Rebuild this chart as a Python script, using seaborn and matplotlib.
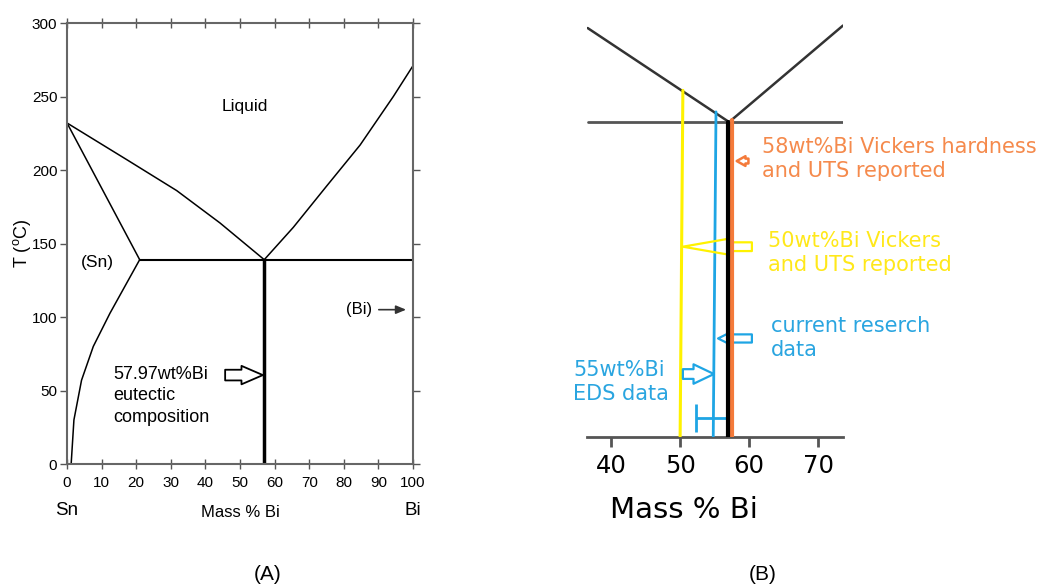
import matplotlib
matplotlib.use("Agg")
import matplotlib.pyplot as plt
import seaborn as sns
import pandas as pd

sns.set_style("ticks")
plt.rcParams["font.family"] = ["Liberation Sans", "DejaVu Sans"]
plt.rcParams["mathtext.default"] = "regular"
plt.rcParams["text.color"] = "black"
plt.rcParams["axes.labelcolor"] = "black"
plt.rcParams["xtick.labelcolor"] = "black"
plt.rcParams["ytick.labelcolor"] = "black"

# (A) Sn-Bi phase diagram
liq_sn_x = [0, 17.3, 31.7, 44.2, 57]
liq_sn_t = [232, 207, 186, 164, 139]
sol_sn_x = [0, 21]
sol_sn_t = [232, 139]
solvus_x = [21, 17.7, 12.4, 7.6, 4.2, 2.0, 1.2]
solvus_t = [139, 125, 102.5, 80, 57, 30, 0]
liq_bi_x = [57, 65.4, 75, 84.7, 94.3, 100]
liq_bi_t = [139, 161, 189, 217, 250, 271]
eutectic_x = 57
eutectic_t = 139

# (B) zoom around the eutectic
zoom_liq_x = [36.6, 57.1, 73.6]
zoom_liq_t = [180.5, 139, 181.6]
yellow_x = [50, 50.4]
yellow_t = [0, 153]
blue_x = [54.8, 55.2]
blue_t = [0, 143.5]
orange_x = 57.5
err_center, err_half, err_t = 54.7, 2.4, 8.2

COL_Y = "#fff200"
COL_B = "#1ea5e4"
COL_O = "#f47a3a"
TXT_Y = "#ffe81a"
TXT_B = "#2aa5e0"
TXT_O = "#f58a4c"

fig = plt.figure(figsize=(10.42, 5.87), dpi=100)

# ---------------- panel A ----------------
ax = fig.add_axes([0.0643, 0.2095, 0.3321, 0.7513])
for xs, ts in [(liq_sn_x, liq_sn_t), (sol_sn_x, sol_sn_t), (solvus_x, solvus_t), (liq_bi_x, liq_bi_t)]:
    df = pd.DataFrame({"x": xs, "t": ts})
    sns.lineplot(data=df, x="x", y="t", sort=False, estimator=None, color="black", lw=1.1, ax=ax)
ax.plot([21, 100], [eutectic_t, eutectic_t], color="black", lw=1.5)
ax.plot([eutectic_x, eutectic_x], [0, eutectic_t], color="black", lw=2.5)

ax.set_xlim(0, 100)
ax.set_ylim(0, 300)
ax.set_xticks(range(0, 101, 10))
ax.set_yticks(range(0, 301, 50))
ax.tick_params(axis="both", direction="out", length=5, width=1, color="#555555",
               labelsize=11, pad=2, top=True, right=True)
ax.tick_params(axis="x", direction="inout", length=7, pad=5)
for s in ax.spines.values():
    s.set_color("#666666")
    s.set_linewidth(1.5)
ax.set_xlabel("")
ax.set_ylabel("T ($^{o}$C)", fontsize=13, labelpad=-1)

ax.text(51.4, 243, "Liquid", fontsize=12.5, ha="center", va="center")
ax.text(8.7, 137, "(Sn)", fontsize=12.5, ha="center", va="center")
ax.text(84.5, 105, "(Bi)", fontsize=12, ha="center", va="center")
ax.annotate("", xy=(98.8, 105), xytext=(89.3, 105),
            arrowprops=dict(arrowstyle="-|>,head_length=0.6,head_width=0.25", color="#333333", lw=1.2))
ax.text(13.3, 67, "57.97wt%Bi\neutectic\ncomposition", fontsize=13, ha="left", va="top",
        linespacing=1.35)
ax.annotate("", xy=(56.6, 60.5), xytext=(45.7, 60.5),
            arrowprops=dict(arrowstyle="simple,head_length=1.1,head_width=0.95,tail_width=0.55",
                            fc="white", ec="black", lw=1.3, mutation_scale=14,
                            shrinkA=0, shrinkB=0))
ax.text(0, -31.3, "Sn", fontsize=13.5, ha="center", va="center", clip_on=False)
ax.text(100, -31.3, "Bi", fontsize=13.5, ha="center", va="center", clip_on=False)
ax.text(50, -32.7, "Mass % Bi", fontsize=12, ha="center", va="center", clip_on=False)

# ---------------- panel B ----------------
bx = fig.add_axes([0.5633, 0.2555, 0.2457, 0.7141])
zdf = pd.DataFrame({"x": zoom_liq_x, "t": zoom_liq_t})
sns.lineplot(data=zdf, x="x", y="t", sort=False, estimator=None, color="#333333", lw=1.8, ax=bx)
bx.plot([36.6, 73.6], [eutectic_t, eutectic_t], color="#555555", lw=2)
bx.errorbar(err_center, err_t, xerr=err_half, color=COL_B, lw=2, capsize=10, capthick=2, zorder=2)
bx.plot(yellow_x, yellow_t, color=COL_Y, lw=2.2, zorder=3)
bx.plot(blue_x, blue_t, color=COL_B, lw=2, zorder=3)
bx.plot([orange_x, orange_x], [0, 140], color=COL_O, lw=3, zorder=4)
bx.plot([eutectic_x, eutectic_x], [0, eutectic_t], color="black", lw=3, zorder=5)


def hollow(axis, head, tail, t, color, hl, hw, tw, scale=14, lw=1.6, fc="white"):
    axis.annotate("", xy=(head, t), xytext=(tail, t),
                  arrowprops=dict(arrowstyle=f"simple,head_length={hl},head_width={hw},tail_width={tw}",
                                  fc=fc, ec=color, lw=lw, mutation_scale=scale,
                                  shrinkA=0, shrinkB=0))


hollow(bx, 50.4, 60.4, 84.0, COL_Y, 2.3, 0.8, 0.45, fc="none")
hollow(bx, 55.5, 60.4, 43.5, COL_B, 0.75, 0.75, 0.42)
hollow(bx, 54.9, 50.4, 27.8, COL_B, 1.05, 1.0, 0.5)
hollow(bx, 58.2, 59.9, 121.8, COL_O, 0.9, 1.0, 0.5, scale=7, lw=1.8)

bx.text(61.9, 122.9, "58wt%Bi Vickers hardness\nand UTS reported", color=TXT_O,
        family=["DejaVu Sans"], fontsize=15, ha="left", va="center", linespacing=1.25)
bx.text(62.75, 81.4, "50wt%Bi Vickers\nand UTS reported", color=TXT_Y,
        family=["DejaVu Sans"], fontsize=15, ha="left", va="center", linespacing=1.25)
bx.text(63.2, 43.5, "current reserch\ndata", color=TXT_B,
        family=["DejaVu Sans"], fontsize=15, ha="left", va="center", linespacing=1.25)
bx.text(34.5, 24.5, "55wt%Bi\nEDS data", color=TXT_B,
        family=["DejaVu Sans"], fontsize=15, ha="left", va="center", linespacing=1.25)

bx.set_xlim(36.5, 73.6)
bx.set_ylim(0, 185)
bx.set_xticks([40, 50, 60, 70])
bx.set_yticks([])
for side in ["top", "left", "right"]:
    bx.spines[side].set_visible(False)
bx.spines["bottom"].set_color("#555555")
bx.spines["bottom"].set_linewidth(2)
bx.tick_params(axis="x", direction="out", length=7, width=2, color="#555555",
               labelsize=17.5, pad=5)
for lab in bx.get_xticklabels():
    lab.set_family(["DejaVu Sans"])
bx.set_xlabel("")
bx.set_ylabel("")
fig.text(684 / 1042, 1 - 510 / 587, "Mass % Bi", fontsize=21, family=["DejaVu Sans"],
         ha="center", va="center")

fig.text(268 / 1042, 1 - 575 / 587, "(A)", fontsize=15, ha="center", va="center")
fig.text(763 / 1042, 1 - 574 / 587, "(B)", fontsize=15, ha="center", va="center")

fig.savefig("out.png", dpi=100)
